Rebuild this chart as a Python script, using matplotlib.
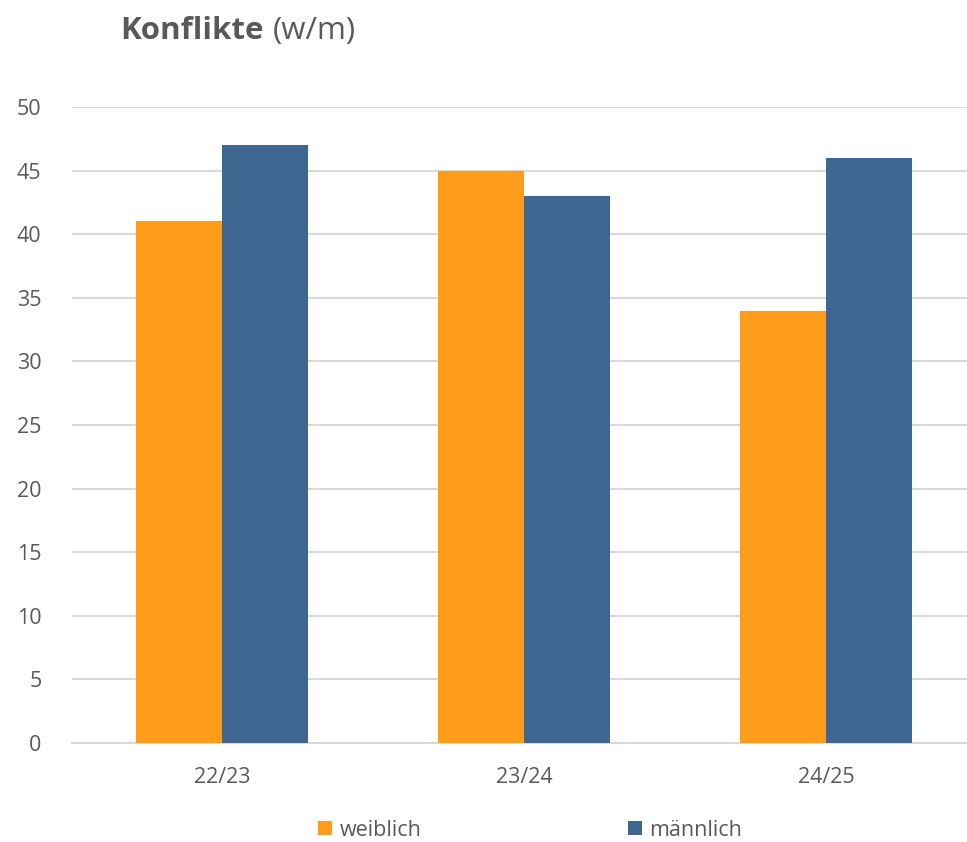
import numpy as np
import matplotlib.pyplot as plt

plt.rcParams['font.family'] = ['Open Sans', 'DejaVu Sans']

# data
seasons = ['22/23', '23/24', '24/25']
weiblich = [41, 45, 34]
maennlich = [47, 43, 46]

orange = '#FF9C1A'
blue = '#3F6690'
grey = '#595959'

fig = plt.figure(figsize=(9.67, 8.42), dpi=100)
ax = fig.add_axes([72 / 967, 99 / 842, 895 / 967, 636 / 842])

x = np.arange(len(seasons))
w = 0.285
ax.bar(x - w / 2, weiblich, w, color=orange, label='weiblich', zorder=3)
ax.bar(x + w / 2, maennlich, w, color=blue, label='männlich', zorder=3)

ax.set_xlim(-0.497, 2.467)
ax.set_ylim(0, 50)
ax.set_yticks(range(0, 51, 5))
ax.set_xticks(x, seasons)
ax.yaxis.grid(True, color='#D9D9D9', linewidth=1.5, zorder=0)
ax.set_axisbelow(True)
for s in ['top', 'right', 'left']:
    ax.spines[s].set_visible(False)
ax.spines['bottom'].set_color('#D9D9D9')
ax.spines['bottom'].set_linewidth(1.5)
ax.tick_params(axis='both', length=0, labelsize=15.5, colors=grey)
ax.tick_params(axis='y', pad=22)
ax.tick_params(axis='x', pad=17)

# title: bold part followed by normal part
t1 = fig.text(120 / 967, 1 - 39 / 842, 'Konflikte', fontsize=22.5, fontweight='bold',
              color=grey, va='baseline')
fig.canvas.draw()
bb = t1.get_window_extent()
fig.text(bb.x1 / 967 + 9 / 967, 1 - 39 / 842, '(w/m)', fontsize=22.5, color=grey,
         va='baseline')

# legend
fig.legend(loc='center', bbox_to_anchor=(530 / 967, 1 - 830 / 842), ncol=2, frameon=False,
           fontsize=15.5, labelcolor=grey, handlelength=0.65, handleheight=0.65,
           handletextpad=0.35, columnspacing=9.6)

fig.savefig('out.png', dpi=100)
